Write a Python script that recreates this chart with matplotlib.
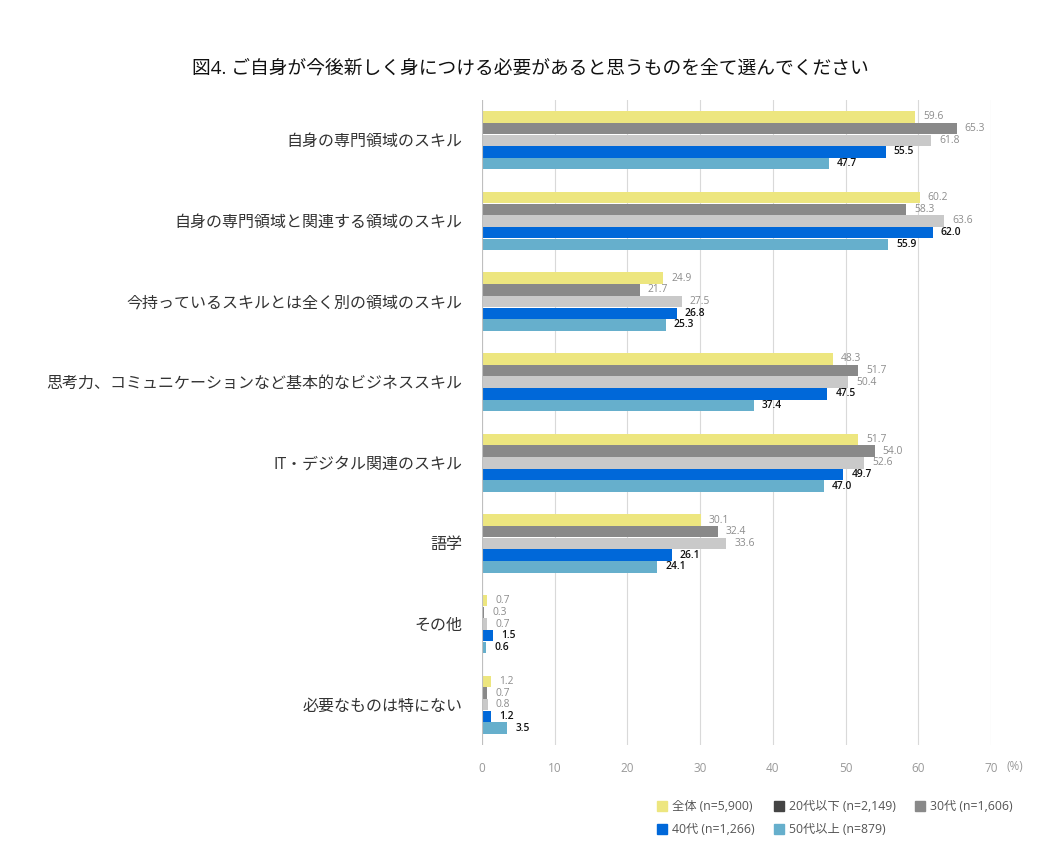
import numpy as np
import matplotlib.pyplot as plt
from matplotlib.lines import Line2D

plt.rcParams['font.family'] = ['Open Sans', 'Noto Sans CJK JP', 'DejaVu Sans']

categories = ['自身の専門領域のスキル',
              '自身の専門領域と関連する領域のスキル',
              '今持っているスキルとは全く別の領域のスキル',
              '思考力、コミュニケーションなど基本的なビジネススキル',
              'IT・デジタル関連のスキル',
              '語学',
              'その他',
              '必要なものは特にない']
series_names = ['全体 (n=5,900)', '20代以下 (n=2,149)', '30代 (n=1,606)',
                '40代 (n=1,266)', '50代以上 (n=879)']
all_ages = [59.6, 60.2, 24.9, 48.3, 51.7, 30.1, 0.7, 1.2]
age20 = [65.3, 58.3, 21.7, 51.7, 54.0, 32.4, 0.3, 0.7]
age30 = [61.8, 63.6, 27.5, 50.4, 52.6, 33.6, 0.7, 0.8]
age40 = [55.5, 62.0, 26.8, 47.5, 49.7, 26.1, 1.5, 1.2]
age50 = [47.7, 55.9, 25.3, 37.4, 47.0, 24.1, 0.6, 3.5]
values = [all_ages, age20, age30, age40, age50]

bar_colors = ['#ede67f', '#898989', '#c9c9c9', '#0068d9', '#66afcc']
legend_colors = ['#ede67f', '#444444', '#898989', '#0068d9', '#66afcc']
label_colors = ['#8c8c8c', '#8c8c8c', '#8c8c8c', '#111111', '#111111']
label_weights = ['normal', 'normal', 'normal', 'semibold', 'semibold']

fig = plt.figure(figsize=(10.6, 8.59), dpi=100)
ax = fig.add_axes([0.4547, 0.1327, 0.4802, 0.7509])

n = len(categories)
y = np.arange(n)
h = 0.145
for i, vals in enumerate(values):
    ypos = y - 2 * h + i * h
    ax.barh(ypos, vals, height=h * 0.98, color=bar_colors[i], zorder=3)
    for yy, v in zip(ypos, vals):
        ax.text(v + 1.1, yy, f'{v:.1f}', va='center', ha='left', fontsize=7.4,
                color=label_colors[i], fontweight=label_weights[i])

ax.set_xlim(0, 70)
ax.set_ylim(n - 0.5, -0.5)
ax.set_xticks(range(0, 71, 10))
ax.set_yticks(y)
ax.set_yticklabels(categories, fontsize=11.5, color='#333333')
ax.tick_params(axis='y', length=0, pad=14)
ax.tick_params(axis='x', length=0, pad=12, labelsize=8.5, labelcolor='#999999')
ax.grid(axis='x', color='#d9d9d9', linewidth=0.8, zorder=0)
for s in ax.spines.values():
    s.set_visible(False)
ax.axvline(0, color='#bfbfbf', linewidth=0.8, zorder=4)

fig.text(1015 / 1060, 1 - 767 / 859, '(%)', fontsize=8.5, color='#999999',
         ha='center', va='center')
fig.text(530 / 1060, 1 - 68 / 859,
         '図4. ご自身が今後新しく身につける必要があると思うものを全て選んでください',
         fontsize=13.5, ha='center', va='center', color='#111111')

handles = [Line2D([], [], marker='s', linestyle='', color=c, markersize=7)
           for c in legend_colors]
order = [0, 3, 1, 4, 2]
fig.legend([handles[k] for k in order], [series_names[k] for k in order],
           ncol=3, loc='center left', bbox_to_anchor=(645 / 1060, 1 - 818 / 859),
           frameon=False, fontsize=8.8, handletextpad=0.3, columnspacing=1.5,
           labelcolor='#555555', handlelength=1.0, labelspacing=0.8)

fig.savefig('out.png', dpi=100)
